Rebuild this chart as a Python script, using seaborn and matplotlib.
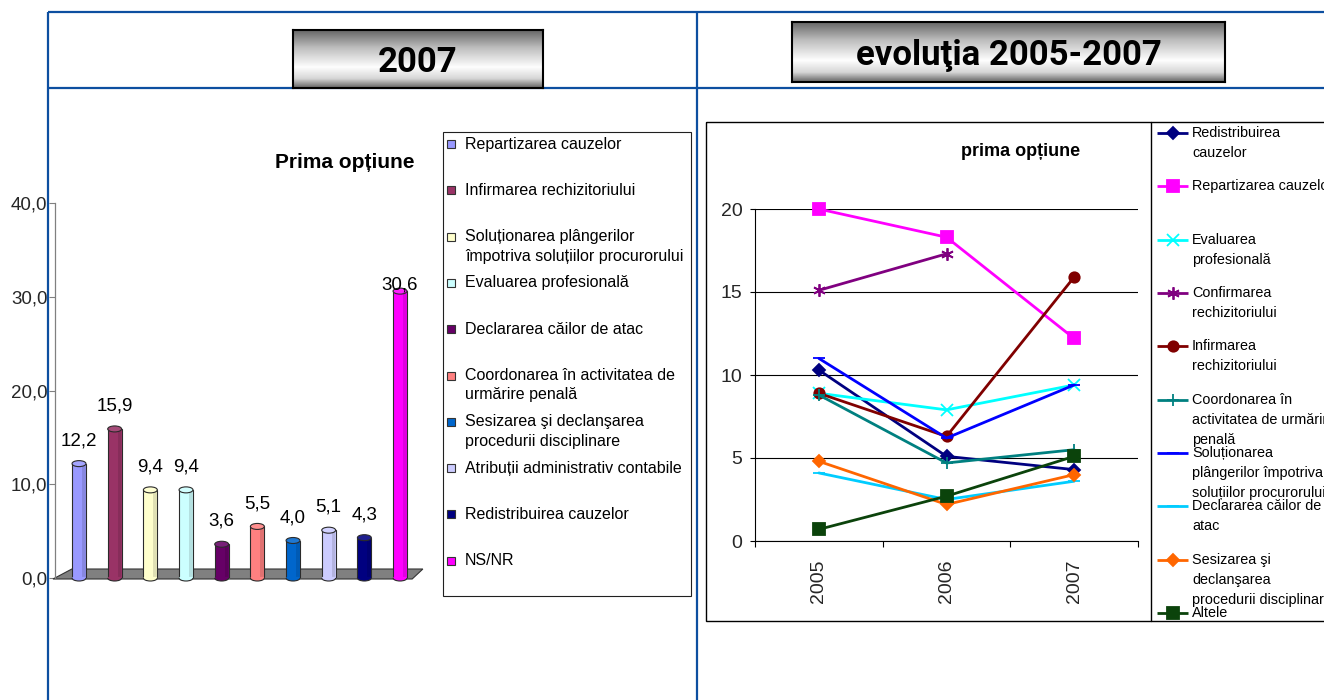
import numpy as np
import pandas as pd
import matplotlib
matplotlib.use("Agg")
import matplotlib.pyplot as plt
import seaborn as sns
from matplotlib.patches import Rectangle, Polygon, Ellipse, Arc
from matplotlib.colors import LinearSegmentedColormap, to_rgb
from matplotlib.ticker import FuncFormatter

# ---------------- data: first option, 2007 ----------------
bar_labels = [
    "Repartizarea cauzelor",
    "Infirmarea rechizitoriului",
    "Soluționarea plângerilor\nîmpotriva soluțiilor procurorului",
    "Evaluarea profesională",
    "Declararea căilor de atac",
    "Coordonarea în activitatea de\nurmărire penală",
    "Sesizarea şi declanşarea\nprocedurii disciplinare",
    "Atribuții administrativ contabile",
    "Redistribuirea cauzelor",
    "NS/NR",
]
bar_values = [12.2, 15.9, 9.4, 9.4, 3.6, 5.5, 4.0, 5.1, 4.3, 30.6]
bar_colors = ["#9999FF", "#993366", "#FFFFCC", "#CCFFFF", "#660066",
              "#FF8080", "#0066CC", "#CCCCFF", "#000080", "#FF00FF"]

# ---------------- data: first option, evolution 2005-2007 ----------------
years = ["2005", "2006", "2007"]
line_labels = [
    "Redistribuirea\ncauzelor",
    "Repartizarea cauzelor",
    "Evaluarea\nprofesională",
    "Confirmarea\nrechizitoriului",
    "Infirmarea\nrechizitoriului",
    "Coordonarea în\nactivitatea de urmărire\npenală",
    "Soluționarea\nplângerilor împotriva\nsoluțiilor procurorului",
    "Declararea căilor de\natac",
    "Sesizarea şi\ndeclanşarea\nprocedurii disciplinare",
    "Altele",
]
redistribuirea = [10.3, 5.1, 4.3]
repartizarea = [20.0, 18.3, 12.2]
evaluarea = [8.9, 7.9, 9.4]
confirmarea = [15.1, 17.3, np.nan]
infirmarea = [8.9, 6.3, 15.9]
coordonarea = [8.8, 4.7, 5.5]
solutionarea = [11.0, 6.2, 9.4]
declararea = [4.1, 2.5, 3.6]
sesizarea = [4.8, 2.2, 4.0]
altele = [0.7, 2.7, 5.1]
line_values = [redistribuirea, repartizarea, evaluarea, confirmarea, infirmarea,
               coordonarea, solutionarea, declararea, sesizarea, altele]
line_colors = ["#000080", "#FF00FF", "#00FFFF", "#800080", "#800000",
               "#008080", "#0000FF", "#00CCFF", "#FF6600", "#0B430B"]
line_markers = ["D", "s", "x", (6, 2, 0), "o", "+", "_", "_", "D", "s"]
marker_sizes = [6.5, 8, 8, 9, 7.5, 9, 8, 8, 6.5, 8]

sns.set_theme(style="white")
plt.rcParams["font.family"] = ["Liberation Sans", "DejaVu Sans"]

W, H = 1324, 700
fig = plt.figure(figsize=(W / 100, H / 100), dpi=100)
fig.patch.set_facecolor("white")


def rect(x0, y0, x1, y1):
    """Figure-fraction rectangle from pixel corners (origin top-left)."""
    return [x0 / W, 1 - y1 / H, (x1 - x0) / W, (y1 - y0) / H]


def lighten(c, f):
    r, g, b = to_rgb(c)
    return (r + (1 - r) * f, g + (1 - g) * f, b + (1 - b) * f)


def darken(c, f):
    r, g, b = to_rgb(c)
    return (r * (1 - f), g * (1 - f), b * (1 - f))


# ---------------- overlay in pixel space: frames, legends, titles ----------------
ov = fig.add_axes([0, 0, 1, 1], zorder=3)
ov.set_xlim(0, W)
ov.set_ylim(H, 0)
ov.axis("off")
ov.patch.set_alpha(0)

blue = "#0D4FA0"
for xs, ys in [([48, W], [12, 12]), ([48, W], [88, 88]),
               ([48, 48], [12, H]), ([697, 697], [12, H])]:
    ov.plot(xs, ys, color=blue, lw=1.6, solid_capstyle="butt")

# ---------------- left: 3D-style column chart ----------------
axb = fig.add_axes(rect(55, 203, 425, 578), zorder=2)
axb.patch.set_alpha(0)
df_bar = pd.DataFrame({"cat": bar_labels, "val": bar_values})
sns.barplot(data=df_bar, x="cat", y="val", hue="cat", palette=bar_colors,
            saturation=1, width=0.39, edgecolor="#2b2b2b", linewidth=0.8,
            legend=False, ax=axb, zorder=3)

axb.set_xlim(-0.673, 9.70)
axb.set_ylim(0, 40)
axb.set_xlabel("")
axb.set_ylabel("")
axb.set_xticks([])
axb.set_yticks([0, 10, 20, 30, 40])
axb.yaxis.set_major_formatter(FuncFormatter(lambda v, _: f"{v:.1f}".replace(".", ",")))
axb.tick_params(axis="y", direction="out", length=4.3, width=0.8, color="#808080",
                labelsize=13.5, pad=1.2, left=True)
for s in ["top", "right", "bottom"]:
    axb.spines[s].set_visible(False)
axb.spines["left"].set_color("#808080")
axb.spines["left"].set_linewidth(0.9)

# grey floor under the columns
floor = Polygon([(-0.73, -0.107), (9.34, -0.107), (9.64, 0.96), (-0.20, 0.96)],
                closed=True, facecolor="#808080", edgecolor="#333333", lw=0.8,
                zorder=1, clip_on=False)
axb.add_patch(floor)

cap_h = 0.64
for bar, val in zip(list(axb.patches)[:len(bar_values)], bar_values):
    cx = bar.get_x() + bar.get_width() / 2
    w = bar.get_width()
    h = bar.get_height()
    fc = bar.get_facecolor()[:3]
    # cylinder shading: darker right flank
    axb.add_patch(Rectangle((cx + w * 0.22, 0), w * 0.26, h, facecolor=darken(fc, 0.12),
                            edgecolor="none", zorder=3.5))
    # rounded bottom of the cylinder
    t = np.linspace(np.pi, 2 * np.pi, 40)
    pts = [(cx - w / 2 + 0.02, 0.12)] + [(cx + w / 2 * np.cos(a), cap_h / 2 * np.sin(a)) for a in t] \
        + [(cx + w / 2 - 0.02, 0.12)]
    axb.add_patch(Polygon(pts, closed=True, facecolor=fc, edgecolor="none", zorder=4, clip_on=False))
    axb.add_patch(Arc((cx, 0), w, cap_h, theta1=180, theta2=360, color="#2b2b2b",
                      lw=0.8, zorder=4.5, clip_on=False))
    # elliptic top cap
    axb.add_patch(Ellipse((cx, h), w, cap_h, facecolor=lighten(fc, 0.12),
                          edgecolor="#2b2b2b", lw=0.8, zorder=5, clip_on=False))
    off = 4.5 if val > 30 else 16.5
    axb.annotate(f"{val:.1f}".replace(".", ","), (cx, h), xytext=(0, off),
                 textcoords="offset points", ha="center", va="center",
                 fontsize=13.5, color="black", zorder=6, annotation_clip=False)

ov.text(345, 162, "Prima opțiune", ha="center", va="center", fontsize=15,
        fontweight="bold", color="black")

# left legend
ov.add_patch(Rectangle((443, 132), 248, 464, fill=False, ec="#202020", lw=0.8))
for i, (lab, col) in enumerate(zip(bar_labels, bar_colors)):
    y = 144 + i * 46.3
    ov.add_patch(Rectangle((447, y - 4), 8, 8, facecolor=col, edgecolor="#333333", lw=0.8))
    for j, part in enumerate(lab.split("\n")):
        ov.text(465, y + j * 19.5, part, ha="left", va="center", fontsize=11.5, color="black")

# ---------------- right: line chart ----------------
ov.add_patch(Rectangle((706, 122), 720, 499, fill=False, ec="black", lw=1))
ov.plot([1151, 1151], [122, 621], color="black", lw=1)

axl = fig.add_axes(rect(755, 209, 1138, 541), zorder=2)
axl.patch.set_alpha(0)
for lab, vals, col, mk, ms in zip(line_labels, line_values, line_colors,
                                  line_markers, marker_sizes):
    d = pd.DataFrame({"year": years, "value": vals}).dropna()
    sns.lineplot(data=d, x="year", y="value", color=col, marker=mk, markersize=ms,
                 markeredgecolor=col, markerfacecolor=col, markeredgewidth=1.3,
                 linewidth=2, ax=axl, zorder=3, clip_on=False)

axl.set_xlim(-0.5, 2.5)
axl.set_ylim(0, 20)
axl.set_xlabel("")
axl.set_ylabel("")
axl.set_yticks([0, 5, 10, 15, 20])
axl.set_yticklabels(["0", "5", "10", "15", "20"])
axl.set_xticks([0, 1, 2])
axl.set_xticklabels(years, rotation=90)
axl.set_xticks([-0.5, 0.5, 1.5, 2.5], minor=True)
axl.tick_params(axis="x", which="major", length=0, labelsize=14, pad=13)
axl.tick_params(axis="x", which="minor", direction="out", length=4.3, width=0.8,
                color="black", bottom=True)
axl.tick_params(axis="y", direction="out", length=3.6, width=0.8, color="black",
                labelsize=14, pad=5.5, left=True)
axl.grid(axis="y", color="black", lw=0.8)
axl.grid(axis="x", visible=False)
axl.set_axisbelow(True)
for s in ["top", "right"]:
    axl.spines[s].set_visible(False)
for s in ["left", "bottom"]:
    axl.spines[s].set_color("black")
    axl.spines[s].set_linewidth(0.8)

ov.text(1021, 152, "prima opțiune", ha="center", va="center", fontsize=13,
        fontweight="bold", color="black")

# right legend (the panel is cut by the page edge, as in the source layout)
for i, (lab, col, mk, ms) in enumerate(zip(line_labels, line_colors, line_markers, marker_sizes)):
    y = 133 + i * 53.33
    ov.plot([1157, 1188], [y, y], color=col, lw=2, solid_capstyle="butt")
    ov.plot([1172.5], [y], marker=mk, markersize=ms, color=col, mec=col, mfc=col, mew=1.3)
    for j, part in enumerate(lab.split("\n")):
        ov.text(1192, y + j * 20, part, ha="left", va="center", fontsize=10.4, color="black")

# ---------------- metallic title plates ----------------
metal = LinearSegmentedColormap.from_list(
    "metal", [(0, "#666666"), (0.3, "#bdbdbd"), (0.64, "#fefefe"),
              (0.84, "#d6d6d6"), (1, "#646464")])


def title_plate(x0, y0, x1, y1, text):
    ax = fig.add_axes(rect(x0, y0, x1, y1), zorder=6)
    ax.imshow(np.linspace(0, 1, 200).reshape(-1, 1), aspect="auto", cmap=metal,
              extent=[0, 1, 0, 1], origin="upper")
    ax.set_xticks([])
    ax.set_yticks([])
    for s in ax.spines.values():
        s.set_visible(True)
        s.set_color("black")
        s.set_linewidth(1.5)
    ax.text(0.5, 0.44, text, transform=ax.transAxes, ha="center", va="center",
            fontsize=25, fontweight="bold", family=["Roboto", "DejaVu Sans"],
            color="black")


title_plate(293, 30, 543, 88, "2007")
title_plate(792, 22, 1225, 82, "evoluţia 2005-2007")

fig.savefig("out.png", dpi=100, facecolor="white")
